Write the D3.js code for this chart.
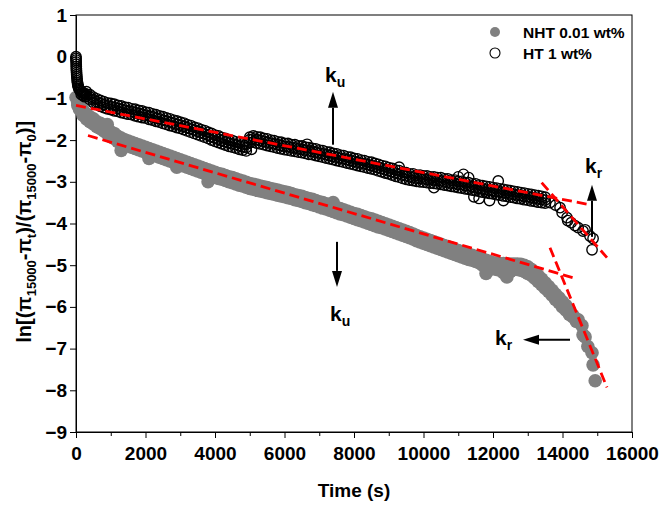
<!DOCTYPE html>
<html>
<head>
<meta charset="UTF-8">
<script src="https://d3js.org/d3.v7.min.js"></script>
<style>
  body { margin: 0; background: #fff; }
  svg { font-family: "Liberation Sans", Arial, sans-serif; font-weight: bold; }
</style>
</head>
<body>
<svg width="664" height="511"></svg>
<script>
// HT 1 wt% (open circles), rows of [time s, readings...]
const htRows = [
  [300,-0.84,-0.9,-0.95],[400,-0.91,-0.97,-1.03],[500,-0.97,-1.03,-1.1],[600,-1.01,-1.08,-1.14],
  [700,-1.05,-1.12,-1.19],[800,-1.08,-1.15,-1.22],[900,-1.11,-1.18,-1.25],[1000,-1.12,-1.2,-1.27],
  [1100,-1.14,-1.22,-1.3],[1200,-1.17,-1.24,-1.31],[1300,-1.18,-1.26,-1.34],[1400,-1.21,-1.28,-1.36],
  [1500,-1.22,-1.3,-1.38],[1600,-1.25,-1.32,-1.39],[1700,-1.26,-1.34,-1.42],[1800,-1.29,-1.36,-1.44],
  [1900,-1.3,-1.38,-1.46],[2000,-1.33,-1.4,-1.47],[2100,-1.34,-1.42,-1.5],[2200,-1.37,-1.44,-1.52],
  [2300,-1.39,-1.47,-1.55],[2400,-1.42,-1.49,-1.57],[2500,-1.44,-1.52,-1.6],[2600,-1.47,-1.54,-1.62],
  [2700,-1.49,-1.57,-1.65],[2800,-1.52,-1.59,-1.67],[2900,-1.54,-1.62,-1.7],[3000,-1.57,-1.64,-1.72],
  [3100,-1.59,-1.67,-1.75],[3200,-1.63,-1.7,-1.78],[3300,-1.65,-1.73,-1.81],[3400,-1.69,-1.76,-1.84],
  [3500,-1.71,-1.79,-1.87],[3600,-1.75,-1.82,-1.9],[3700,-1.77,-1.85,-1.93],[3800,-1.81,-1.88,-1.96],
  [3900,-1.84,-1.92,-2.0],[4000,-1.88,-1.95,-2.03],[4100,-1.9,-1.98,-2.06],[4200,-1.94,-2.01,-2.09],
  [4300,-1.96,-2.04,-2.12],[4400,-2.0,-2.07,-2.15],[4500,-2.01,-2.09,-2.17],[4600,-2.04,-2.11,-2.19],
  [4700,-2.06,-2.14,-2.22],[4800,-2.09,-2.16,-2.24],[4900,-2.1,-2.18,-2.26],[5000,-1.93,-1.99,-2.06],
  [5100,-1.9,-1.97,-2.05],[5200,-1.92,-1.99,-2.07],[5300,-1.93,-2.01,-2.09],[5400,-1.96,-2.03,-2.11],
  [5500,-1.97,-2.05,-2.13],[5600,-2.0,-2.07,-2.15],[5700,-2.01,-2.09,-2.17],[5800,-2.04,-2.11,-2.19],
  [5900,-2.05,-2.13,-2.21],[6000,-2.08,-2.15,-2.23],[6100,-2.08,-2.16,-2.24],[6200,-2.11,-2.18,-2.26],
  [6300,-2.11,-2.19,-2.27],[6400,-2.14,-2.21,-2.29],[6500,-2.14,-2.22,-2.3],[6600,-2.17,-2.24,-2.32],
  [6700,-2.18,-2.26,-2.34],[6800,-2.2,-2.27,-2.35],[6900,-2.21,-2.29,-2.37],[7000,-2.24,-2.31,-2.39],
  [7100,-2.25,-2.33,-2.41],[7200,-2.28,-2.35,-2.43],[7300,-2.29,-2.37,-2.45],[7400,-2.32,-2.39,-2.47],
  [7500,-2.33,-2.41,-2.49],[7600,-2.36,-2.43,-2.51],[7700,-2.37,-2.45,-2.53],[7800,-2.4,-2.47,-2.55],
  [7900,-2.41,-2.49,-2.57],[8000,-2.44,-2.51,-2.59],[8100,-2.45,-2.53,-2.61],[8200,-2.48,-2.55,-2.63],
  [8300,-2.49,-2.57,-2.65],[8400,-2.52,-2.59,-2.67],[8500,-2.53,-2.61,-2.69],[8600,-2.56,-2.63,-2.71],
  [8700,-2.58,-2.66,-2.74],[8800,-2.61,-2.68,-2.76],[8900,-2.63,-2.71,-2.79],[9000,-2.66,-2.73,-2.81],
  [9100,-2.68,-2.76,-2.84],[9200,-2.72,-2.79,-2.87],[9300,-2.73,-2.81,-2.89],[9400,-2.77,-2.84,-2.92],
  [9500,-2.78,-2.86,-2.94],[9600,-2.81,-2.88,-2.96],[9700,-2.81,-2.89,-2.97],[9800,-2.84,-2.91,-2.99],
  [9900,-2.84,-2.92,-3.0],[10000,-2.86,-2.93,-3.01],[10100,-2.86,-2.94,-3.02],[10200,-2.88,-2.95,-3.03],
  [10300,-2.88,-2.96,-3.04],[10400,-2.9,-2.97,-3.05],[10500,-2.9,-2.98,-3.06],[10600,-2.93,-3.0,-3.08],
  [10700,-2.93,-3.01,-3.09],[10800,-2.96,-3.03,-3.11],[10900,-2.96,-3.04,-3.12],[11000,-2.99,-3.06,-3.14],
  [11100,-2.99,-3.07,-3.15],[11200,-3.02,-3.09,-3.17],[11300,-3.02,-3.1,-3.18],[11400,-3.05,-3.12,-3.2],
  [11500,-3.05,-3.13,-3.21],[11600,-3.08,-3.15,-3.23],[11700,-3.09,-3.17,-3.25],[11800,-3.11,-3.18,-3.26],
  [11900,-3.12,-3.2,-3.28],[12000,-3.14,-3.21,-3.29],[12100,-3.15,-3.23,-3.31],[12200,-3.17,-3.24,-3.32],
  [12300,-3.18,-3.26,-3.34],[12400,-3.2,-3.27,-3.35],[12500,-3.21,-3.29,-3.37],[12600,-3.23,-3.3,-3.38],
  [12700,-3.24,-3.32,-3.4],[12800,-3.26,-3.33,-3.41],[12900,-3.27,-3.35,-3.43],[13000,-3.29,-3.36,-3.44],
  [13100,-3.3,-3.38,-3.46],[13200,-3.32,-3.39,-3.47],[13300,-3.33,-3.41,-3.49],[13400,-3.35,-3.42,-3.5],
  [13500,-3.37,-3.44,-3.51]
];
// HT single readings: initial drop, stray points, final drop
const htSingles = [
  [0,0],[0,-0.04],[2,-0.08],[4,-0.13],[6,-0.18],[8,-0.23],[10,-0.28],[13,-0.33],[16,-0.38],[20,-0.43],
  [25,-0.48],[30,-0.53],[36,-0.58],[43,-0.62],[50,-0.66],[60,-0.7],[70,-0.73],[85,-0.76],[100,-0.79],
  [120,-0.81],[145,-0.83],[170,-0.85],[200,-0.86],[230,-0.88],[260,-0.89],[150,-0.9],[200,-0.93],[250,-0.96],
  [5050,-2.22],[6650,-2.1],[9300,-2.65],[10300,-3.14],[11000,-2.88],[11150,-2.82],[11300,-2.9],
  [11450,-3.36],[11600,-3.4],[11900,-3.45],[12150,-2.98],[12300,-3.45],
  [13640,-3.5],[13800,-3.56],[13930,-3.62],[13990,-3.74],[14130,-3.86],[14150,-3.93],[14250,-3.98],
  [14360,-4.05],[14450,-4.1],[14590,-4.18],[14650,-4.15],[14790,-4.3],[14880,-4.36],[14850,-4.63]
];

// NHT 0.01 wt% (filled grey circles), rows of [time s, readings...]
const nhtRows = [
  [0,-0.98],[50,-1.05,-1.1,-1.16],[100,-1.14,-1.2,-1.26],[200,-1.28,-1.34,-1.4],[300,-1.37,-1.43,-1.49],
  [400,-1.44,-1.5,-1.56],[500,-1.49,-1.55,-1.61],[600,-1.56,-1.62,-1.68],[700,-1.6,-1.66,-1.72],
  [800,-1.66,-1.72,-1.78],[900,-1.63,-1.78,-1.84],[1000,-1.8,-1.86,-1.92],[1100,-1.84,-1.9,-1.96],
  [1200,-1.91,-1.97,-2.03],[1300,-1.95,-2.01,-2.25],[1400,-1.99,-2.05,-2.11],[1500,-2.02,-2.08,-2.14],
  [1600,-2.05,-2.11,-2.17],[1700,-2.08,-2.14,-2.2],[1800,-2.11,-2.17,-2.23],[1900,-2.14,-2.2,-2.26],
  [2000,-2.17,-2.23,-2.29],[2100,-2.2,-2.26,-2.44],[2200,-2.23,-2.29,-2.35],[2300,-2.26,-2.32,-2.38],
  [2400,-2.29,-2.35,-2.41],[2500,-2.32,-2.38,-2.44],[2600,-2.35,-2.41,-2.47],[2700,-2.38,-2.44,-2.5],
  [2800,-2.41,-2.47,-2.53],[2900,-2.44,-2.5,-2.65],[3000,-2.47,-2.53,-2.59],[3100,-2.5,-2.56,-2.62],
  [3200,-2.53,-2.59,-2.65],[3300,-2.56,-2.62,-2.68],[3400,-2.59,-2.65,-2.71],[3500,-2.62,-2.68,-2.74],
  [3600,-2.65,-2.71,-2.77],[3700,-2.68,-2.74,-2.8],[3800,-2.71,-2.77,-3.0],[3900,-2.74,-2.8,-2.86],
  [4000,-2.77,-2.83,-2.89],[4100,-2.8,-2.86,-2.92],[4200,-2.82,-2.88,-2.94],[4300,-2.85,-2.91,-2.97],
  [4400,-2.88,-2.94,-3.0],[4500,-2.9,-2.96,-3.02],[4600,-2.93,-2.99,-3.05],[4700,-2.96,-3.02,-3.08],
  [4800,-2.98,-3.04,-3.1],[4900,-3.01,-3.07,-3.13],[5000,-3.04,-3.1,-3.16],[5100,-3.06,-3.12,-3.18],
  [5200,-3.08,-3.14,-3.2],[5300,-3.1,-3.16,-3.22],[5400,-3.12,-3.18,-3.24],[5500,-3.14,-3.2,-3.26],
  [5600,-3.16,-3.22,-3.28],[5700,-3.18,-3.24,-3.3],[5800,-3.2,-3.26,-3.32],[5900,-3.22,-3.28,-3.34],
  [6000,-3.24,-3.3,-3.36],[6100,-3.26,-3.32,-3.38],[6200,-3.28,-3.34,-3.4],[6300,-3.31,-3.37,-3.43],
  [6400,-3.33,-3.39,-3.45],[6500,-3.35,-3.41,-3.47],[6600,-3.38,-3.44,-3.5],[6700,-3.4,-3.46,-3.52],
  [6800,-3.42,-3.49,-3.55],[6900,-3.45,-3.51,-3.57],[7000,-3.48,-3.54,-3.6],[7100,-3.5,-3.57,-3.63],
  [7200,-3.53,-3.59,-3.65],[7300,-3.56,-3.62,-3.68],[7400,-3.5,-3.65,-3.71],[7500,-3.62,-3.68,-3.74],
  [7600,-3.64,-3.71,-3.77],[7700,-3.67,-3.73,-3.79],[7800,-3.7,-3.76,-3.82],[7900,-3.73,-3.79,-3.85],
  [8000,-3.76,-3.82,-3.88],[8100,-3.78,-3.85,-3.91],[8200,-3.81,-3.87,-3.93],[8300,-3.84,-3.9,-3.96],
  [8400,-3.87,-3.93,-3.99],[8500,-3.89,-3.96,-4.02],[8600,-3.92,-3.99,-4.05],[8700,-3.95,-4.02,-4.08],
  [8800,-3.98,-4.04,-4.1],[8900,-4.01,-4.07,-4.13],[9000,-4.04,-4.1,-4.16],[9100,-4.07,-4.13,-4.19],
  [9200,-4.1,-4.16,-4.22],[9300,-4.13,-4.19,-4.25],[9400,-4.16,-4.22,-4.28],[9500,-4.19,-4.25,-4.31],
  [9600,-4.22,-4.28,-4.34],[9700,-4.25,-4.31,-4.37],[9800,-4.29,-4.35,-4.41],[9900,-4.32,-4.38,-4.44],
  [10000,-4.35,-4.41,-4.47],[10100,-4.38,-4.44,-4.5],[10200,-4.41,-4.47,-4.53],[10300,-4.44,-4.5,-4.56],
  [10400,-4.47,-4.53,-4.59],[10500,-4.5,-4.56,-4.62],[10600,-4.53,-4.59,-4.65],[10700,-4.56,-4.62,-4.68],
  [10800,-4.59,-4.65,-4.71],[10900,-4.62,-4.68,-4.74],[11000,-4.65,-4.71,-4.77],[11100,-4.68,-4.74,-4.8],
  [11200,-4.71,-4.77,-4.83],[11300,-4.74,-4.8,-4.86],[11400,-4.76,-4.82,-4.88],[11500,-4.79,-4.85,-4.91],
  [11600,-4.82,-4.88,-4.94],[11700,-4.85,-4.92,-5.0],[11800,-4.88,-4.96,-5.2],[11900,-4.91,-4.98,-5.1],
  [12000,-4.94,-5.0,-5.08],[12100,-4.95,-5.01,-5.1],[12200,-4.96,-5.02,-5.12],[12300,-4.96,-5.03,-5.18],
  [12400,-4.97,-5.04,-5.28],[12500,-4.97,-5.05,-5.15],[12600,-4.97,-5.04,-5.1],[12700,-4.97,-5.04,-5.1],
  [12800,-4.98,-5.06,-5.12],[12900,-5.0,-5.08,-5.15],[13000,-5.04,-5.12,-5.2],[13100,-5.1,-5.17,-5.24],
  [13200,-5.17,-5.24,-5.31],[13300,-5.25,-5.32,-5.39],[13400,-5.33,-5.4,-5.47],[13500,-5.42,-5.48,-5.55],
  [13600,-5.51,-5.57,-5.63],[13700,-5.6,-5.66,-5.72],[13800,-5.7,-5.76,-5.82],[13900,-5.78,-5.84,-5.9],
  [14000,-5.88,-5.94,-6.0],[14100,-5.97,-6.03,-6.08],[14200,-6.08,-6.13,-6.18],[14300,-6.2,-6.24],
  [14400,-6.3,-6.35],[14450,-6.31],[14560,-6.45],[14590,-6.67],[14650,-6.72],[14730,-6.95],
  [14850,-7.1],[14880,-7.39],[14940,-7.77]
];

// red dashed fit lines, end points [time, value]
const htFitU  = [[0,-1.17],[14790,-3.55]];
const htFitR  = [[13400,-3.02],[15280,-4.82]];
const nhtFitU = [[345,-1.89],[14380,-5.32]];
const nhtFitR = [[13640,-4.58],[15280,-7.93]];

const xTicks = [0,2000,4000,6000,8000,10000,12000,14000,16000];
const xMinorTicks = [1000,3000,5000,7000,9000,11000,13000,15000];
const yTicks = [1,0,-1,-2,-3,-4,-5,-6,-7,-8,-9];

// annotations: subscript, label anchor [t,v], arrow from -> to [t,v]
const notes = [
  {sub: "u", at: [7165,-0.6],  from: [7396,-2.11], to: [7396,-0.84]},
  {sub: "u", at: [7309,-6.35], from: [7511,-4.44], to: [7511,-5.52]},
  {sub: "r", at: [14647,-2.78], from: [14849,-4.32], to: [14849,-3.07]},
  {sub: "r", at: [12058,-6.91], from: [14216,-6.79], to: [12863,-6.79]}
];

const toPoints = rows => rows.flatMap(([t, ...vs]) => vs.map(v => [t, v]));
const htPoints = toPoints(htRows).concat(htSingles);
const nhtPoints = toPoints(nhtRows);

const svg = d3.select("svg");
const margin = {top: 15, right: 32, bottom: 79, left: 76};
const W = 664 - margin.left - margin.right;
const H = 511 - margin.top - margin.bottom;

const x = d3.scaleLinear().domain([0, 16000]).range([margin.left, margin.left + W]);
const y = d3.scaleLinear().domain([-9, 1]).range([margin.top + H, margin.top]);

// frame
svg.append("rect")
  .attr("x", margin.left).attr("y", margin.top)
  .attr("width", W).attr("height", H)
  .attr("fill", "none").attr("stroke", "#000").attr("stroke-width", 1);

// axes
svg.append("g").attr("transform", `translate(0,${margin.top + H})`)
  .call(d3.axisBottom(x).tickValues(xTicks).tickSize(6).tickPadding(9).tickFormat(d3.format("d")));
svg.append("g").attr("transform", `translate(0,${margin.top + H})`)
  .call(d3.axisBottom(x).tickValues(xMinorTicks).tickSize(4).tickFormat(""))
  .select(".domain").remove();
svg.append("g").attr("transform", `translate(${margin.left},0)`)
  .call(d3.axisLeft(y).tickValues(yTicks).tickSize(6).tickPadding(3).tickFormat(d3.format("d")));

svg.selectAll(".tick text").attr("font-size", 19).attr("font-weight", "bold")
  .attr("font-family", "'Liberation Sans', Arial, sans-serif").attr("fill", "#000");
svg.selectAll(".domain, .tick line").attr("stroke", "#000");

// axis titles
svg.append("text").attr("x", x(8000)).attr("y", 497)
  .attr("text-anchor", "middle").attr("font-size", 19).text("Time (s)");

const yl = svg.append("text")
  .attr("transform", `translate(31,${y(-4.2)}) rotate(-90)`)
  .attr("text-anchor", "middle").attr("font-size", 20);
const parts = [["ln[(π",0],["15000",1],["-π",0],["t",1],[")/(π",0],["15000",1],["-π",0],["0",1],[")]",0]];
let down = false;
parts.forEach(([s, sub]) => {
  const t = yl.append("tspan").text(s);
  if (sub) { t.attr("font-size", 13).attr("dy", down ? 0 : 5); down = true; }
  else { if (down) t.attr("dy", -5); down = false; }
});

// data
svg.append("g").selectAll("circle").data(nhtPoints).join("circle")
  .attr("cx", d => x(d[0])).attr("cy", d => y(d[1])).attr("r", 6.8)
  .attr("fill", "#808080");

svg.append("g").selectAll("circle").data(htPoints).join("circle")
  .attr("cx", d => x(d[0])).attr("cy", d => y(d[1])).attr("r", 5.2)
  .attr("fill", "none").attr("stroke", "#000").attr("stroke-width", 1.35);

// fit lines
const line = d3.line().x(d => x(d[0])).y(d => y(d[1]));
[htFitU, htFitR, nhtFitU, nhtFitR].forEach(f => {
  svg.append("path").attr("d", line(f))
    .attr("fill", "none").attr("stroke", "#ff0000").attr("stroke-width", 2.8)
    .attr("stroke-dasharray", "10,5");
});

// annotations
notes.forEach(n => {
  const x1 = x(n.from[0]), y1 = y(n.from[1]), x2 = x(n.to[0]), y2 = y(n.to[1]);
  const ang = Math.atan2(y2 - y1, x2 - x1);
  const L = 16, hw = 5;
  const bx = x2 - L * Math.cos(ang), by = y2 - L * Math.sin(ang);
  svg.append("line").attr("x1", x1).attr("y1", y1).attr("x2", bx).attr("y2", by)
    .attr("stroke", "#000").attr("stroke-width", 2);
  svg.append("path")
    .attr("d", `M${x2},${y2}L${bx + hw * Math.sin(ang)},${by - hw * Math.cos(ang)}L${bx - hw * Math.sin(ang)},${by + hw * Math.cos(ang)}Z`)
    .attr("fill", "#000");
  const t = svg.append("text").attr("x", x(n.at[0])).attr("y", y(n.at[1])).attr("font-size", 21);
  t.append("tspan").text("k");
  t.append("tspan").text(n.sub).attr("font-size", 14).attr("dy", 5);
});

// legend
const legend = [
  {label: "NHT 0.01 wt%", fill: "#808080", stroke: "none"},
  {label: "HT 1 wt%", fill: "none", stroke: "#000"}
];
legend.forEach((d, i) => {
  const cy = 32 + i * 21;
  svg.append("circle").attr("cx", 495).attr("cy", cy).attr("r", 5)
    .attr("fill", d.fill).attr("stroke", d.stroke).attr("stroke-width", 1.1);
  svg.append("text").attr("x", 523).attr("y", cy + 6).attr("font-size", 15.5).text(d.label);
});
</script>
</body>
</html>
